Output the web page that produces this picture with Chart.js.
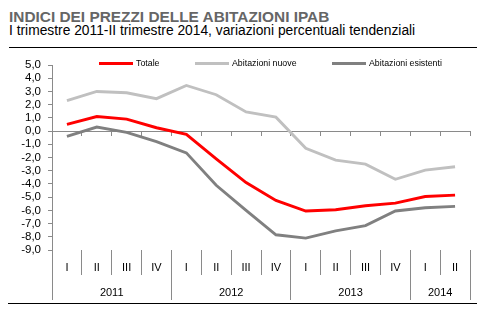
<!DOCTYPE html>
<html><head><meta charset="utf-8">
<script src="https://cdn.jsdelivr.net/npm/chart.js@4"></script>
<style>
body{margin:0;width:492px;height:321px;background:#fff;position:relative;overflow:hidden;font-family:'Liberation Sans',Arial,sans-serif}
#title{position:absolute;left:9px;top:8px;font:bold 15.4px 'Liberation Sans',Arial;color:#666;white-space:nowrap}
#sub{position:absolute;left:9px;top:23px;font:13.8px 'Liberation Sans',Arial;color:#000;white-space:nowrap}
.hr{position:absolute;height:0;border-top:1.5px solid #000}
canvas{position:absolute;left:0;top:0}
.leg{position:absolute;top:58px;font:8.8px 'Liberation Sans',Arial;display:flex;align-items:center;white-space:nowrap;color:#000}
.sw{width:34px;height:3px;margin-right:3px}
</style></head>
<body>
<div id="title">INDICI DEI PREZZI DELLE ABITAZIONI IPAB</div>
<div id="sub">I trimestre 2011-II trimestre 2014, variazioni percentuali tendenziali</div>
<div class="hr" style="left:9px;top:47px;width:468px"></div>
<div class="hr" style="left:8px;top:303px;width:469px"></div>
<canvas id="c" width="492" height="321"></canvas>
<div id="legend"></div>
<script>
const quarters = ['I','II','III','IV','I','II','III','IV','I','II','III','IV','I','II'];
const years = ['2011','2012','2013','2014'];
const yearCounts = [4,4,4,2];
const seriesNames = ['Totale','Abitazioni nuove','Abitazioni esistenti'];
const totale = [0.5, 1.1, 0.9, 0.25, -0.25, -2.1, -3.9, -5.25, -6.05, -5.95, -5.65, -5.45, -4.95, -4.85];
const nuove = [2.3, 3.0, 2.9, 2.45, 3.45, 2.75, 1.45, 1.05, -1.3, -2.2, -2.5, -3.65, -2.95, -2.7];
const esistenti = [-0.4, 0.3, -0.1, -0.8, -1.65, -4.1, -6.0, -7.85, -8.1, -7.55, -7.15, -6.05, -5.8, -5.7];
const colors = ['#ff0000','#c0c0c0','#808080'];
const legendLeft = [99,195,332];

// year boundaries & label centres in category units
const yearBounds = [-0.5]; const yearCenters = [];
let acc = -0.5;
yearCounts.forEach(n => { yearCenters.push(acc + n/2); acc += n; yearBounds.push(acc); });
const yearTickVals = [...yearBounds, ...yearCenters].sort((a,b)=>a-b);

const gray = '#8a8a8a';
const tickFont = {family:"'Liberation Sans',Arial", size:11};

const chart = new Chart(document.getElementById('c'), {
  type:'line',
  data:{
    labels: quarters,
    datasets:[totale,nuove,esistenti].map((d,i)=>({
      label: seriesNames[i], data: d, borderColor: colors[i], backgroundColor: colors[i],
      borderWidth: 2.9, pointRadius: 0, tension: 0, fill:false
    }))
  },
  options:{
    responsive:false, animation:false,
    layout:{padding:{top:65,left:12,right:22,bottom:21}},
    plugins:{legend:{display:false}, tooltip:{enabled:false}},
    scales:{
      y:{
        min:-9, max:5,
        afterFit: s => { s.width = 40; },
        ticks:{stepSize:1, autoSkip:false, padding:7, color:'#000', font:{family:"'Liberation Sans',Arial", size:11.5},
          callback: v => v.toFixed(1).replace('.', ',')},
        grid:{drawOnChartArea:false, tickLength:4, color:gray},
        border:{display:true, color:gray}
      },
      x:{
        type:'category', position:'bottom', offset:true, weight:0,
        afterFit: s => { s.height = 25; },
        ticks:{padding:-14, color:'#000', font:tickFont, maxRotation:0, autoSkip:false},
        grid:{drawOnChartArea:false, tickLength:25, color:gray, offset:true},
        border:{display:false}
      },
      xYear:{
        type:'linear', position:'bottom', weight:1, min:-0.5, max:13.5,
        afterFit: s => { s.height = 25; },
        afterBuildTicks: s => { s.ticks = yearTickVals.map(v => ({value:v})); },
        ticks:{padding:-14, color:'#000', font:tickFont, maxRotation:0, autoSkip:false,
          callback: v => { const k = yearCenters.indexOf(v); return k >= 0 ? years[k] : ''; }},
        grid:{drawOnChartArea:false, tickLength:25,
          color: ctx => (ctx.tick && yearBounds.includes(ctx.tick.value)) ? gray : 'rgba(0,0,0,0)'},
        border:{display:false}
      },
      xZero:{
        type:'category', position:{y:0}, offset:true,
        ticks:{display:false},
        grid:{drawOnChartArea:false, tickLength:4, color:gray, offset:true},
        border:{display:true, color:gray}
      }
    }
  }
});

const leg = document.getElementById('legend');
seriesNames.forEach((n,i)=>{
  const d = document.createElement('div'); d.className='leg'; d.style.left = legendLeft[i]+'px';
  d.innerHTML = '<span class="sw" style="background:'+colors[i]+'"></span><span>'+n+'</span>';
  leg.appendChild(d);
});
</script>
</body></html>
